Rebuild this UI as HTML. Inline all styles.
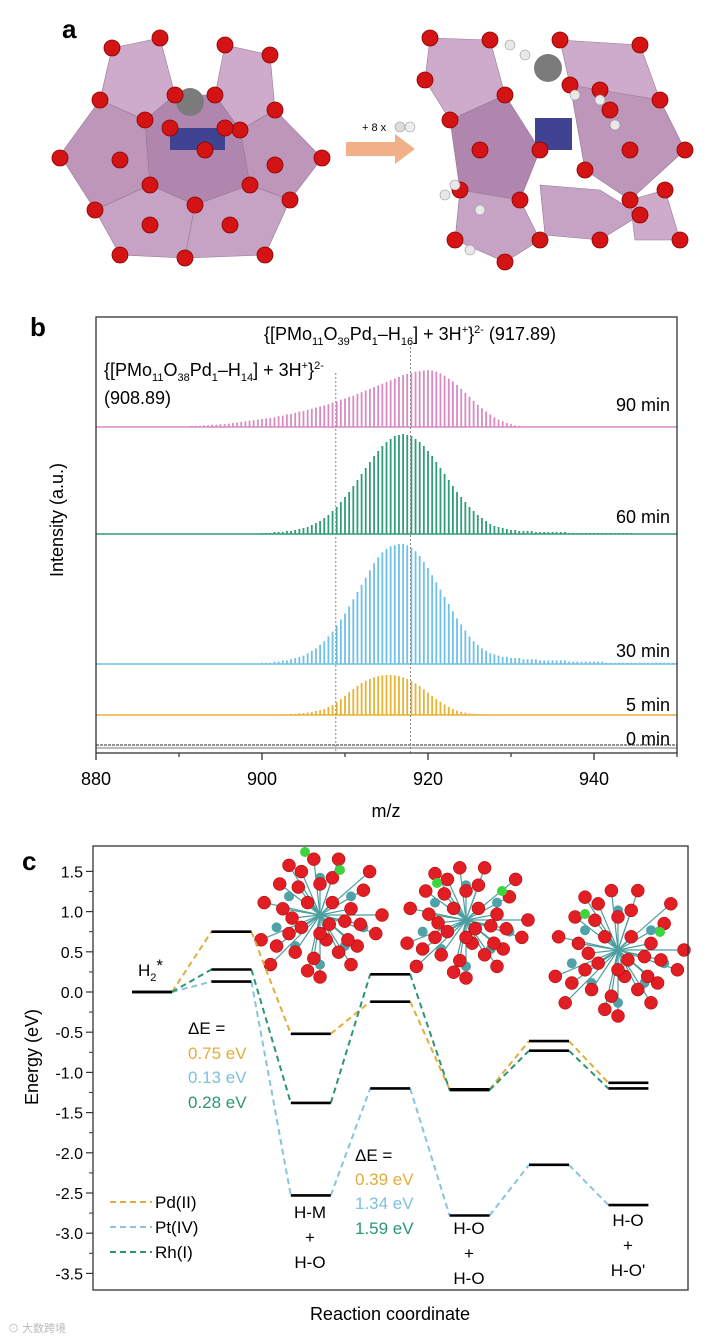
<!DOCTYPE html>
<html><head><meta charset="utf-8">
<style>
html,body{margin:0;padding:0;background:#fff;}
svg{display:block;font-family:"Liberation Sans",Arial,sans-serif;}
</style></head>
<body>
<svg id="fig" width="712" height="1340" viewBox="0 0 712 1340" xmlns="http://www.w3.org/2000/svg">
<!-- Panel a -->
<g id="panelA">
<text x="62" y="38" font-size="26" font-weight="bold">a</text>
<g opacity="0.9">
<polygon points="60,155 100,100 145,120 150,185 95,210" fill="#b68bb2" stroke="#8a6a8a" stroke-width="0.6"/>
<polygon points="100,100 112,48 160,38 175,95 145,120" fill="#c9a3c6" stroke="#8a6a8a" stroke-width="0.6"/>
<polygon points="215,95 225,45 270,55 275,110 240,130" fill="#c9a3c6" stroke="#8a6a8a" stroke-width="0.6"/>
<polygon points="240,130 275,110 322,158 290,200 250,185" fill="#b68bb2" stroke="#8a6a8a" stroke-width="0.6"/>
<polygon points="145,120 175,95 215,95 240,130 250,185 195,205 150,185" fill="#a87aa6" stroke="#8a6a8a" stroke-width="0.6"/>
<polygon points="95,210 150,185 195,205 185,258 120,255" fill="#c09abf" stroke="#8a6a8a" stroke-width="0.6"/>
<polygon points="195,205 250,185 290,200 265,255 185,258" fill="#c09abf" stroke="#8a6a8a" stroke-width="0.6"/>
<polygon points="170,128 225,128 225,150 170,150" fill="#2b2f86"/>
<circle cx="190" cy="102" r="14" fill="#6d6d6d"/>
</g>
<g>
<polygon points="346,142 395,142 395,134 415,149 395,164 395,156 346,156" fill="#f2b088"/>
<text x="362" y="131" font-size="11">+ 8 x</text>
<circle cx="400" cy="127" r="5" fill="#ddd" stroke="#999" stroke-width="0.6"/>
<circle cx="410" cy="127" r="5" fill="#eee" stroke="#999" stroke-width="0.6"/>
</g>
<g opacity="0.9">
<polygon points="430,38 490,40 505,95 450,120 425,80" fill="#c9a3c6" stroke="#8a6a8a" stroke-width="0.6"/>
<polygon points="560,40 640,45 660,100 610,110 570,85" fill="#c9a3c6" stroke="#8a6a8a" stroke-width="0.6"/>
<polygon points="450,120 505,95 540,150 520,200 460,190" fill="#a87aa6" stroke="#8a6a8a" stroke-width="0.6"/>
<polygon points="570,85 660,100 685,150 630,200 585,170" fill="#b68bb2" stroke="#8a6a8a" stroke-width="0.6"/>
<polygon points="460,190 520,200 540,240 505,262 455,240" fill="#c09abf" stroke="#8a6a8a" stroke-width="0.6"/>
<polygon points="540,185 600,190 640,215 600,240 545,235" fill="#c09abf" stroke="#8a6a8a" stroke-width="0.6"/>
<polygon points="630,200 665,190 680,240 635,240" fill="#c9a3c6" stroke="#8a6a8a" stroke-width="0.6"/>
<polygon points="535,118 572,118 572,150 535,150" fill="#2b2f86"/>
<circle cx="548" cy="68" r="14" fill="#6d6d6d"/>
</g>
<g id="ballsA"></g>
</g>

<!-- Panel b -->
<g id="panelB">
<text x="30" y="336" font-size="26" font-weight="bold">b</text>
<g id="specs"></g>
<rect x="96" y="317" width="581" height="436" fill="none" stroke="#333" stroke-width="1.3"/>
<g id="axisB"></g>
<text x="410" y="340" font-size="18" text-anchor="middle">{[PMo<tspan font-size="11" dy="5">11</tspan><tspan dy="-5">O</tspan><tspan font-size="11" dy="5">39</tspan><tspan dy="-5">Pd</tspan><tspan font-size="11" dy="5">1</tspan><tspan dy="-5">–H</tspan><tspan font-size="11" dy="5">16</tspan><tspan dy="-5">] + 3H</tspan><tspan font-size="11" dy="-7">+</tspan><tspan dy="7">}</tspan><tspan font-size="11" dy="-7">2-</tspan><tspan dy="7"> (917.89)</tspan></text>
<text x="104" y="376" font-size="18">{[PMo<tspan font-size="11" dy="5">11</tspan><tspan dy="-5">O</tspan><tspan font-size="11" dy="5">38</tspan><tspan dy="-5">Pd</tspan><tspan font-size="11" dy="5">1</tspan><tspan dy="-5">–H</tspan><tspan font-size="11" dy="5">14</tspan><tspan dy="-5">] + 3H</tspan><tspan font-size="11" dy="-7">+</tspan><tspan dy="7">}</tspan><tspan font-size="11" dy="-7">2-</tspan></text>
<text x="104" y="404" font-size="18">(908.89)</text>
<text x="670" y="411" font-size="18" text-anchor="end">90 min</text>
<text x="670" y="523" font-size="18" text-anchor="end">60 min</text>
<text x="670" y="657" font-size="18" text-anchor="end">30 min</text>
<text x="670" y="711" font-size="18" text-anchor="end">5 min</text>
<text x="670" y="745" font-size="18" text-anchor="end">0 min</text>
<text x="386" y="817" font-size="18" text-anchor="middle">m/z</text>
<text transform="translate(63,520) rotate(-90)" font-size="18" text-anchor="middle">Intensity (a.u.)</text>
</g>

<!-- Panel c -->
<g id="panelC">
<text x="22" y="870" font-size="26" font-weight="bold">c</text>
<g id="clusters"></g>
<rect x="93" y="846" width="595" height="444" fill="none" stroke="#333" stroke-width="1.3"/>
<g id="axisC"></g>
<g id="levels"></g>
<text x="138" y="976" font-size="17">H<tspan font-size="11" dy="5">2</tspan><tspan dy="-10">*</tspan></text>
<g font-size="17">
<text x="188" y="1034">ΔE =</text>
<text x="188" y="1059" fill="#e0ad3a">0.75 eV</text>
<text x="188" y="1083" fill="#7fc0dc">0.13 eV</text>
<text x="188" y="1108" fill="#2c9577">0.28 eV</text>
</g>
<g font-size="17">
<text x="355" y="1161">ΔE =</text>
<text x="355" y="1185" fill="#e0ad3a">0.39 eV</text>
<text x="355" y="1209" fill="#7fc0dc">1.34 eV</text>
<text x="355" y="1234" fill="#2c9577">1.59 eV</text>
</g>
<g font-size="17" text-anchor="middle">
<text x="310" y="1218">H-M</text><text x="310" y="1243">+</text><text x="310" y="1268">H-O</text>
<text x="469" y="1234">H-O</text><text x="469" y="1259">+</text><text x="469" y="1284">H-O</text>
<text x="628" y="1226">H-O</text><text x="628" y="1251">+</text><text x="628" y="1276">H-O'</text>
</g>
<g id="legendC"></g>
<text x="390" y="1320" font-size="18" text-anchor="middle">Reaction coordinate</text>
<text transform="translate(38,1057) rotate(-90)" font-size="18" text-anchor="middle">Energy (eV)</text>
<text x="8" y="1332" font-size="11" fill="#bbb">⊙ 大数跨境</text>
</g>
</svg>
<script>
// ---------- Panel b data ----------
const mzTicks = [880, 900, 920, 940];
const mzMinorTicks = [890, 910, 930, 950];
const spec90Start = 890;
const spec90 = [1,1,1,2,2,2,3,3,4,4, 5,5,6,7,8,9,10,11,12,13, 14,15,16,17,19,20,22,23,25,27, 28,30,32,34,36,38,40,43,45,48, 50,53,55,58,61,64,67,70,73,76, 79,82,85,88,91,93,95,97,98,99, 100,99,97,94,90,85,80,74,67,60, 53,46,39,33,27,22,17,13,10,7, 5,3,2,1,1];
const spec60Start = 900;
const spec60 = [1,1,1,2,2,2,3,3,4,5, 6,7,9,11,13,16,19,23,27,32, 37,42,48,54,60,66,72,78,83,88, 92,95,98,99,100,99,98,95,92,88, 83,78,72,66,60,54,48,42,37,32, 27,23,19,16,13,10,8,7,6,5, 4,4,3,3,3,3,2,2,2,2, 2,2,2,2,1,1,1,1,1,1, 1,1,1,1,1,1,1,1,1,1];
const spec30Start = 900;
const spec30 = [1,1,1,2,2,3,3,4,5,6, 7,9,11,13,16,19,23,27,32,37, 42,48,54,60,66,72,78,84,89,93, 96,98,99,100,100,99,97,94,90,85, 80,74,68,62,56,50,44,38,33,28, 23,19,16,13,11,9,8,7,6,6, 5,5,5,4,4,4,4,3,3,3, 3,3,3,3,2,2,2,2,2,2, 2,2,2,1,1,1,1,1,1,1, 1,1,1,1,1,1,1,1,1,1, 1];
const spec5Start = 903;
const spec5 = [2,3,3,4,5,6,8,10,12,15, 20,25,32,40,48,57,65,73,80,86, 90,94,97,99,100,100,99,97,94,90, 85,79,72,64,56,48,40,33,26,20, 15,11,8,6,4,3,2,2,1,1, 1,1,1];
const refLines = [908.89, 917.89];

const SVGNS = "http://www.w3.org/2000/svg";
function mk(tag, attrs, parent){const e=document.createElementNS(SVGNS,tag);for(const k in attrs)e.setAttribute(k,attrs[k]);parent.appendChild(e);return e;}

const bx0=96, bx1=677, mz0=880, mz1=950;
function xB(mz){return bx0+(mz-mz0)/(mz1-mz0)*(bx1-bx0);}

const specs=document.getElementById('specs');
const traces=[
 {name:'spectrum-90min', data:spec90, start:spec90Start, base:427, h:57, color:'#d98bc1'},
 {name:'spectrum-60min', data:spec60, start:spec60Start, base:534, h:100, color:'#2f9c7a'},
 {name:'spectrum-30min', data:spec30, start:spec30Start, base:664, h:120, color:'#6fc1e6'},
 {name:'spectrum-5min', data:spec5, start:spec5Start, base:715, h:40, color:'#e9b232'}
];
traces.forEach(t=>{
  const g=mk('g',{},specs);
  
  
  const bl=mk('line',{x1:bx0,x2:bx1,y1:t.base,y2:t.base,stroke:t.color,'stroke-width':1.5},g);
  
  
  t.data.forEach((v,i)=>{
    const x=xB(t.start+i*0.5);
    const ln=mk('line',{x1:x,x2:x,y1:t.base,y2:t.base-v/100*t.h,stroke:t.color,'stroke-width':1.8},g);
    
    
  });
});
const g0=mk('g',{},specs);


mk('line',{x1:bx0,x2:bx1,y1:745,y2:745,stroke:'#555','stroke-width':1.2,'stroke-dasharray':'3,1'},g0);
mk('line',{x1:bx0,x2:bx1,y1:748,y2:748,stroke:'#777','stroke-width':1},g0);
refLines.forEach((m,i)=>{
  const l=mk('line',{x1:xB(m),x2:xB(m),y1:i===0?373:343,y2:753,stroke:'#888','stroke-width':1,'stroke-dasharray':'2,2'},specs);
  
  
});
const axB=document.getElementById('axisB');
mzTicks.forEach(m=>{
  const t=mk('line',{x1:xB(m),x2:xB(m),y1:753,y2:760,stroke:'#333','stroke-width':1.3},axB);
  
  
  const lb=mk('text',{x:xB(m),y:785,'font-size':18,'text-anchor':'middle'},axB);
  lb.textContent=m;
  
  
});
mzMinorTicks.forEach(m=>{
  const t=mk('line',{x1:xB(m),x2:xB(m),y1:753,y2:757,stroke:'#333','stroke-width':1.2},axB);
  
  
});

// ---------- Panel c data ----------
const states = ['H2*','TS1','H-M + H-O','TS2','H-O + H-O','TS3',"H-O + H-O'"];
const energyPd = [0, 0.75, -0.52, -0.12, -1.21, -0.61, -1.13];
const energyPt = [0, 0.13, -2.53, -1.20, -2.78, -2.15, -2.65];
const energyRh = [0, 0.28, -1.38, 0.22, -1.22, -0.73, -1.20];
const energyTicks = [1.5, 1.0, 0.5, 0.0, -0.5, -1.0, -1.5, -2.0, -2.5, -3.0, -3.5];
const seriesNames = ['Pd(II)','Pt(IV)','Rh(I)'];

function yC(e){return 992 - e*80.4;}
function xC(i){return 152 + i*79.4;}
const halfW=20;
const colors=['#e0ad3a','#86c4e0','#2c9577'];
const lv=document.getElementById('levels');
[energyPd,energyPt,energyRh].forEach((arr,s)=>{
  for(let i=0;i<arr.length-1;i++){
    const l=mk('line',{x1:xC(i)+halfW,y1:yC(arr[i]),x2:xC(i+1)-halfW,y2:yC(arr[i+1]),stroke:colors[s],'stroke-width':2,'stroke-dasharray':'6,4'},lv);
    
    
  }
});
[energyPd,energyPt,energyRh].forEach((arr,s)=>{
  arr.forEach((e,i)=>{
    const l=mk('line',{x1:xC(i)-halfW,x2:xC(i)+halfW,y1:yC(e),y2:yC(e),stroke:'#000','stroke-width':2.6},lv);
    
    
  });
});
const axC=document.getElementById('axisC');
energyTicks.forEach((e,k)=>{
  const t=mk('line',{x1:86,x2:93,y1:yC(e),y2:yC(e),stroke:'#333','stroke-width':1.2},axC);
  
  
  if(k<energyTicks.length-1){
    const m=mk('line',{x1:89,x2:93,y1:yC(e-0.25),y2:yC(e-0.25),stroke:'#333','stroke-width':1},axC);
    
    
  }
  const lb=mk('text',{x:83,y:yC(e)+6,'font-size':16,'text-anchor':'end'},axC);
  lb.textContent=e.toFixed(1);
  
  
});
const lg=document.getElementById('legendC');
seriesNames.forEach((n,i)=>{
  const y=1208+i*25;
  const l=mk('line',{x1:110,x2:152,y1:y-6,y2:y-6,stroke:colors[i],'stroke-width':2,'stroke-dasharray':'6,4'},lg);
  
  
  const t=mk('text',{x:155,y:y,'font-size':17},lg);
  t.textContent=n;
  
  
});

// ---------- Illustrations (atoms) ----------
const ballsA=document.getElementById('ballsA');
const aPts=[[112,48],[160,38],[225,45],[270,55],[100,100],[145,120],[175,95],[215,95],[240,130],[275,110],[60,158],[322,158],[150,185],[250,185],[95,210],[195,205],[290,200],[120,255],[185,258],[265,255],[170,128],[225,128],[205,150],[120,160],[275,165],[150,225],[230,225],
[430,38],[490,40],[560,40],[640,45],[505,95],[450,120],[425,80],[570,85],[660,100],[610,110],[540,150],[685,150],[520,200],[460,190],[630,200],[585,170],[540,240],[505,262],[455,240],[600,240],[640,215],[665,190],[680,240],[600,90],[480,150],[630,150]];
aPts.forEach(p=>{
  const c=mk('circle',{cx:p[0],cy:p[1],r:8,fill:'#d41414',stroke:'#8a0000','stroke-width':0.8},ballsA);
  
  
});
const hPts=[[510,45],[525,55],[575,95],[600,100],[455,185],[445,195],[480,210],[470,250],[615,125]];
hPts.forEach(p=>{
  const c=mk('circle',{cx:p[0],cy:p[1],r:5,fill:'#e8e8e8',stroke:'#999','stroke-width':0.6},ballsA);
  
  
});

const cl=document.getElementById('clusters');
const clusterDefs=[
 {cx:320,cy:915,rx:62,ry:62,green:[[305,852],[340,870]]},
 {cx:466,cy:920,rx:62,ry:58,green:[[437,883],[502,891]]},
 {cx:618,cy:950,rx:66,ry:66,green:[[585,914],[660,932]]}
];
clusterDefs.forEach((d,k)=>{
  const g=mk('g',{},cl);
  
  
  const offs=[[-0.9,-0.2],[-0.7,0.5],[-0.5,-0.8],[-0.3,0.2],[-0.2,0.9],[0,-0.5],[0.1,0.4],[0.3,-0.9],[0.4,0.1],[0.5,0.8],[0.7,-0.4],[0.9,0.3],[-0.6,-0.1],[0.2,-0.2],[-0.1,0.7],[0.6,0.5],[-0.4,0.6],[0.8,-0.7],[-0.8,0.8],[0.0,1.0],[-0.95,0.4],[1.0,0.0],[0.3,0.6],[-0.35,-0.45],
   [-0.2,-0.2],[0.15,0.15],[-0.5,0.3],[0.5,-0.1],[-0.3,-0.7],[0.2,-0.6],[-0.65,-0.5],[0.65,0.15],[0.0,0.3],[-0.1,-0.9],[0.45,0.4],[-0.45,0.05]];
  offs.forEach(o=>{
    mk('line',{x1:d.cx,y1:d.cy,x2:d.cx+o[0]*d.rx,y2:d.cy+o[1]*d.ry,stroke:'#4a9ea0','stroke-width':1.2},g);
  });
  const teal=[[-0.5,-0.3],[0.5,-0.3],[-0.4,0.5],[0.4,0.5],[0,0.8],[0,-0.6],[-0.7,0.2],[0.7,0.2]];
  teal.forEach(o=>mk('circle',{cx:d.cx+o[0]*d.rx,cy:d.cy+o[1]*d.ry,r:5,fill:'#4fa3a8'},g));
  offs.forEach(o=>mk('circle',{cx:d.cx+o[0]*d.rx,cy:d.cy+o[1]*d.ry,r:6.5,fill:'#e01e24',stroke:'#a00','stroke-width':0.5},g));
  d.green.forEach(p=>mk('circle',{cx:p[0],cy:p[1],r:5,fill:'#3ed43e'},g));
});
</script>
</body></html>
